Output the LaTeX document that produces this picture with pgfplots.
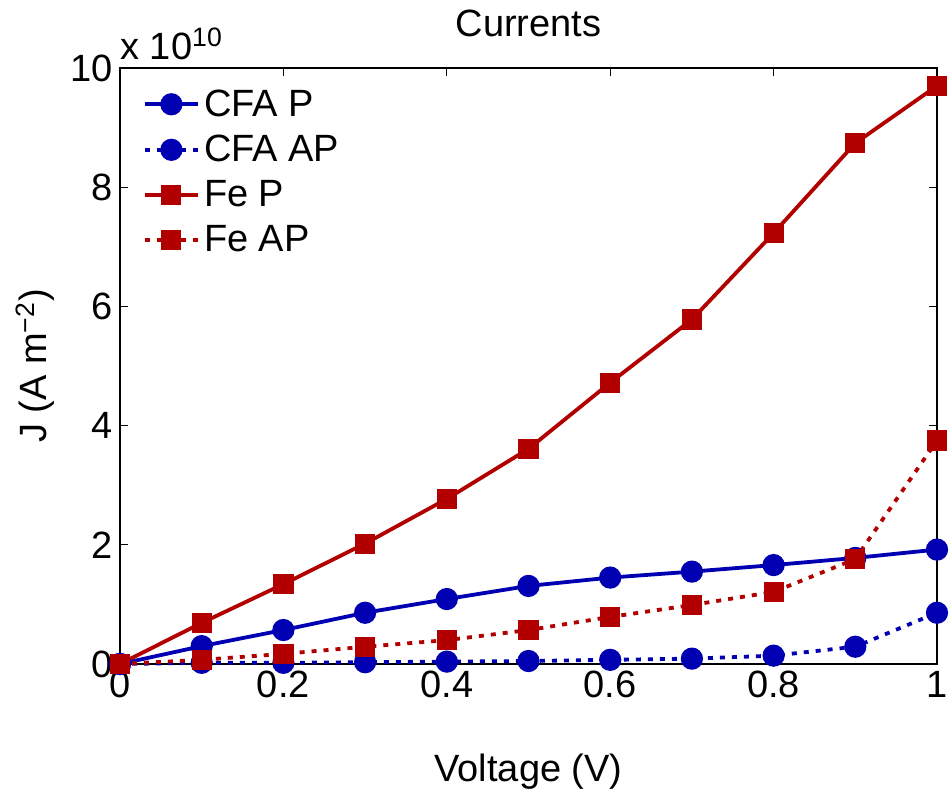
\documentclass[border=0pt]{standalone}
\usepackage{fontspec}
\setmainfont{Liberation Sans}
\usepackage{pgfplots}
\pgfplotsset{compat=1.18}
\definecolor{mblue}{rgb}{0,0,0.7}
\definecolor{mred}{rgb}{0.7,0,0}
\begin{document}
\begin{tikzpicture}
\begin{axis}[
    scale only axis,
    width=408.5pt,
    height=298pt,
    xmin=0, xmax=1,
    ymin=0, ymax=10,
    xtick={0,0.2,0.4,0.6,0.8,1},
    ytick={0,2,4,6,8,10},
    xticklabels={0,0.2,0.4,0.6,0.8,1},
    tick align=inside,
    major tick length=4pt,
    axis line style={line width=0.8pt},
    every tick/.style={line width=0.6pt, black},
    font=\fontsize{19}{22}\selectfont,
    /pgf/number format/assume math mode=true,
    title={Currents},
    title style={at={(axis description cs:0.5,1.054)}, anchor=center},
    xlabel={Voltage (V)},
    xlabel style={at={(axis description cs:0.5,-0.181)}, anchor=center},
    ylabel={J (A m\textsuperscript{−2})},
    ylabel style={at={(axis description cs:-0.104,0.5)}, anchor=center},
    legend style={at={(axis description cs:0.02,0.978)}, anchor=north west,
        draw=none, fill=none, row sep=4pt},
    legend cell align=left,
    legend image code/.code={\draw[mark repeat=2,mark phase=2,#1] plot coordinates {(0cm,0cm) (0.47cm,0cm) (0.94cm,0cm)};},
    clip=false,
]
\addplot[mblue, line width=1.9pt, mark=*, mark size=4.6pt, mark options={solid}] coordinates {
(0,0) (0.1,0.30) (0.2,0.57) (0.3,0.86) (0.4,1.09) (0.5,1.31) (0.6,1.45) (0.7,1.55) (0.8,1.66) (0.9,1.78) (1.0,1.92)};
\addlegendentry{CFA P}
\addplot[mblue, line width=1.9pt, dash pattern=on 2.5pt off 3.5pt, mark=*, mark size=4.6pt, mark options={solid}] coordinates {
(0,0) (0.1,0.02) (0.2,0.02) (0.3,0.03) (0.4,0.04) (0.5,0.05) (0.6,0.07) (0.7,0.09) (0.8,0.14) (0.9,0.29) (1.0,0.86)};
\addlegendentry{CFA AP}
\addplot[mred, line width=1.9pt, mark=square*, mark size=4.1pt, mark options={solid}] coordinates {
(0,0) (0.1,0.69) (0.2,1.34) (0.3,2.02) (0.4,2.77) (0.5,3.61) (0.6,4.72) (0.7,5.78) (0.8,7.23) (0.9,8.74) (1.0,9.70)};
\addlegendentry{Fe P}
\addplot[mred, line width=1.9pt, dash pattern=on 2.5pt off 3.5pt, mark=square*, mark size=4.1pt, mark options={solid}] coordinates {
(0,0) (0.1,0.07) (0.2,0.17) (0.3,0.29) (0.4,0.40) (0.5,0.57) (0.6,0.79) (0.7,0.99) (0.8,1.21) (0.9,1.76) (1.0,3.75)};
\addlegendentry{Fe AP}
\node[anchor=south west, inner sep=0pt, yshift=4pt] at (rel axis cs:0,1) {x 10\textsuperscript{10}};
\end{axis}
\pgfresetboundingbox
\path[use as bounding box] (current axis.south west) ++(-60pt,-64.5pt) rectangle ++(476pt,396.5pt);
\end{tikzpicture}
\end{document}
